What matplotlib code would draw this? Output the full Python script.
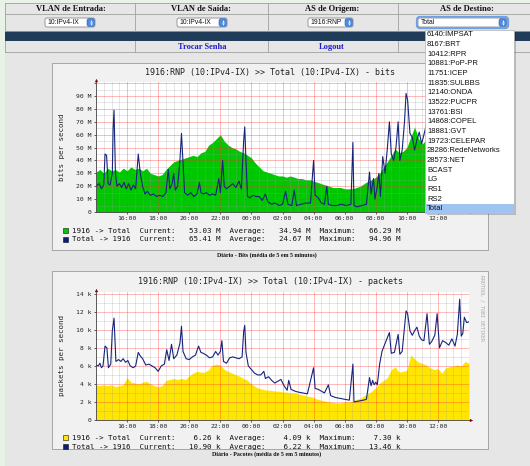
import matplotlib
matplotlib.use('Agg')
import matplotlib.pyplot as plt
from matplotlib.patches import Rectangle, FancyBboxPatch
import numpy as np

W, H = 530, 466
MONO = 'DejaVu Sans Mono'
SERIF = 'Liberation Serif'
SANS = 'Liberation Sans'

# header of the page
col_titles = ['VLAN de Entrada:', 'VLAN de Saída:', 'AS de Origem:', 'AS de Destino:']
col_selected = ['10:IPv4-IX', '10:IPv4-IX', '1916:RNP', 'Total']
menu_links = ['Trocar Senha', 'Logout']
as_options = ['6140:IMPSAT', '8167:BRT', '10412:RPR', '10881:PoP-PR', '11751:ICEP',
              '11835:SULBBS', '12140:ONDA', '13522:PUCPR', '13761:BSI', '14868:COPEL',
              '18881:GVT', '19723:CELEPAR', '28286:RedeNetworks', '28573:NET',
              'BCAST', 'LG', 'RS1', 'RS2', 'Total']

# time axis (hours since the start of the graph, ~14:00)
tick_hours = [2, 4, 6, 8, 10, 12, 14, 16, 18, 20, 22]
tick_labels = ['16:00', '18:00', '20:00', '22:00', '00:00', '02:00',
               '04:00', '06:00', '08:00', '10:00', '12:00']
sample_hours = np.arange(0, 24.01, 0.25)

series_names = ['1916 -> Total', 'Total -> 1916']

# bits graph (M bit/s)
bits_out = [31, 33, 30, 34, 32, 33, 31, 34, 32,
            35, 33, 34, 32, 34, 30, 29, 28,
            29, 33, 36, 39, 40, 41, 42, 43,
            44, 43, 46, 47, 52, 54, 57, 60,
            55, 52, 50, 49, 47, 46, 44, 42,
            38, 35, 32, 31, 30, 29, 28, 28,
            27, 28, 27, 26, 26, 25, 25, 24,
            23, 22, 21, 20, 19, 19, 19, 18,
            18, 18, 19, 20, 22, 24, 25, 27,
            30, 35, 39, 44, 49, 46, 47, 50,
            58, 66, 57, 53, 56, 58, 55, 57,
            56, 59, 57, 60, 58, 55, 54, 53]

bits_in_h = [0.0, 0.2, 0.35, 0.5, 0.58, 0.68, 0.78, 0.9, 1.05, 1.1,
             1.16, 1.25, 1.35, 1.5, 1.65, 1.8, 1.95, 2.1, 2.25, 2.4,
             2.55, 2.72, 2.85, 3.0, 3.15, 3.3, 3.5, 3.7, 3.9, 4.1,
             4.3, 4.5, 4.65, 4.75, 4.9, 5.0, 5.1, 5.25, 5.4, 5.5,
             5.6, 5.7, 5.9, 6.1, 6.3, 6.5, 6.65, 6.75, 6.9, 7.1,
             7.3, 7.5, 7.7, 7.9, 8.0, 8.15, 8.25, 8.4, 8.6, 8.8,
             9.0, 9.2, 9.35, 9.5, 9.57, 9.65, 9.75, 9.9, 10.1, 10.3,
             10.5, 10.7, 10.9, 11.05, 11.3, 11.5, 11.8, 12.0, 12.2, 12.35,
             12.6, 12.75, 12.9, 13.2, 13.5, 13.8, 14.0, 14.1, 14.3, 14.5,
             14.7, 14.85, 14.95, 15.2, 15.5, 15.8, 16.1, 16.4, 16.53, 16.6,
             16.8, 17.1, 17.4, 17.6, 17.7, 17.85, 17.95, 18.1, 18.2, 18.3,
             18.45, 18.6, 18.75, 18.88, 19.0, 19.15, 19.3, 19.44, 19.55, 19.7,
             19.85, 19.95, 20.05, 20.2, 20.35, 20.5, 20.65, 20.8, 20.95, 21.1,
             21.4, 21.7, 22.0, 22.3, 22.6, 22.9, 23.2, 23.5, 23.8, 24.0]
bits_in = [20, 22, 18, 21, 45, 44, 22, 21, 30, 65,
           79, 30, 20, 22, 19, 23, 18, 22, 17, 21,
           18, 45, 30, 20, 14, 16, 13, 14, 12, 13,
           12, 15, 33, 18, 22, 30, 17, 20, 40, 61,
           38, 15, 13, 15, 12, 14, 23, 15, 14, 15,
           13, 14, 13, 26, 15, 40, 20, 18, 20, 22,
           19, 24, 18, 55, 66, 40, 12, 11, 13, 12,
           12, 9, 14, 8, 6, 7, 5, 6, 16, 6,
           5, 17, 5, 6, 7, 7, 40, 13, 11, 7,
           6, 20, 6, 5, 5, 6, 5, 6, 54, 5,
           4, 5, 6, 31, 14, 26, 10, 20, 30, 12,
           43, 30, 50, 70, 45, 40, 50, 70, 40, 48,
           70, 92, 87, 61, 58, 48, 56, 62, 53, 60,
           75, 65, 82, 70, 95, 72, 80, 68, 70, 65]

bits_stats_out = [53.03, 34.94, 66.29]
bits_stats_in = [65.41, 24.67, 94.96]

# packets graph (k packets/s)
pk_out = [3.9, 3.8, 3.9, 3.8, 3.9, 3.7, 3.8, 3.9, 4.7,
          4.2, 4.1, 4.0, 4.2, 4.3, 4.0, 3.8, 3.7,
          3.8, 4.4, 4.5, 4.6, 4.5, 4.6, 4.5, 4.9,
          5.2, 5.4, 5.3, 5.3, 5.6, 6.1, 6.2, 6.1,
          5.6, 5.4, 5.2, 5.0, 4.85, 4.6, 4.4, 4.0,
          3.7, 3.5, 3.4, 3.3, 3.3, 3.2, 3.2, 3.1,
          3.1, 3.0, 3.0, 2.9, 2.8, 2.7, 2.6, 2.5,
          2.3, 2.2, 2.1, 2.0, 1.95, 1.9, 1.9, 2.0,
          2.0, 2.1, 2.3, 2.4, 2.7, 2.9, 3.2, 3.6,
          4.1, 4.4, 4.7, 5.6, 5.9, 5.3, 5.4, 5.5,
          7.2, 6.8, 6.4, 6.3, 6.1, 5.8, 5.6, 5.7,
          5.2, 5.8, 5.9, 6.0, 6.1, 6.0, 6.5, 6.3]

pk_in_h = [0.0, 0.15, 0.25, 0.35, 0.45, 0.58, 0.7, 0.8, 0.95, 1.05,
           1.16, 1.28, 1.45, 1.6, 1.75, 1.9, 2.05, 2.2, 2.4, 2.55,
           2.72, 2.85, 3.0, 3.2, 3.4, 3.6, 3.8, 4.0, 4.2, 4.4,
           4.55, 4.7, 4.86, 5.0, 5.2, 5.4, 5.5, 5.6, 5.8, 6.0,
           6.2, 6.4, 6.6, 6.75, 6.9, 7.1, 7.3, 7.5, 7.7, 7.85,
           8.0, 8.1, 8.2, 8.4, 8.6, 8.8, 9.0, 9.2, 9.4, 9.5,
           9.57, 9.65, 9.8, 10.0, 10.2, 10.4, 10.6, 10.8, 10.9, 11.1,
           11.3, 11.5, 11.7, 11.9, 12.1, 12.3, 12.4, 12.55, 12.8, 13.0,
           13.3, 13.6, 14.0, 14.1, 14.3, 14.5, 14.7, 14.95, 15.1, 15.4,
           15.7, 16.0, 16.3, 16.53, 16.6, 16.9, 17.2, 17.4, 17.6, 17.7,
           17.8, 17.9, 18.0, 18.1, 18.25, 18.4, 18.6, 18.88, 19.0, 19.2,
           19.44, 19.55, 19.7, 19.95, 20.05, 20.2, 20.35, 20.5, 20.65, 20.8,
           20.95, 21.1, 21.3, 21.45, 21.6, 21.8, 21.95, 22.1, 22.3, 22.5,
           22.7, 22.9, 23.1, 23.25, 23.4, 23.5, 23.6, 23.7, 23.85, 24.0]
pk_in = [6.1, 6.0, 6.3, 5.8, 6.0, 8.2, 8.0, 5.8, 6.2, 9.9,
         11.3, 6.5, 6.7, 6.5, 6.8, 6.4, 6.6, 6.0, 5.8, 6.0,
         7.5, 7.1, 6.8, 6.1, 6.2, 6.0, 5.8, 5.4, 6.0, 6.2,
         7.8, 6.6, 8.4, 6.8, 7.2, 8.5, 10.4, 7.6, 6.8, 6.7,
         7.0, 7.2, 8.2, 7.5, 7.4, 7.2, 6.9, 7.0, 7.6, 7.2,
         7.6, 8.8, 6.5, 6.3, 6.9, 7.0, 6.9, 6.8, 7.0, 9.8,
         10.5, 7.5, 6.0, 5.6, 5.2, 5.0, 5.0, 5.4, 4.6, 4.8,
         4.4, 4.1, 4.3, 4.5, 3.8, 3.3, 4.4, 3.4, 3.2, 3.1,
         3.0, 2.9, 5.8, 3.5, 3.4, 3.2, 3.0, 3.9, 2.7, 2.5,
         2.4, 2.3, 2.2, 6.2, 2.0, 2.1, 2.2, 2.3, 4.7, 3.8,
         4.4, 3.9, 4.2, 3.9, 6.2, 7.6, 8.5, 9.7, 7.4, 7.5,
         9.5, 7.3, 7.6, 12.1, 11.8, 9.9, 9.4, 9.9, 10.3, 9.3,
         8.9, 8.8, 11.8, 8.4, 8.7, 9.4, 11.8, 8.0, 8.8, 8.6,
         8.3, 9.0, 8.2, 9.5, 13.4, 9.3, 9.6, 11.4, 10.8, 10.9]

pk_stats_out = [6.26, 4.09, 7.30]
pk_stats_in = [10.90, 6.22, 13.46]


def px_axes(fig, x0, y0, x1, y1, z):
    """
    axes placed by pixel box (top-left origin)
    """
    return fig.add_axes([x0 / W, 1 - y1 / H, (x1 - x0) / W, (y1 - y0) / H], zorder=z)


def draw_select(ax, x0, x1, text, focus=False):
    """
    a mac style select box
    """
    y0, y1 = 18, 27
    if focus:
        ax.add_patch(FancyBboxPatch((x0 - 1.2, y0 - 1.2), x1 - x0 + 2.4, y1 - y0 + 2.4,
                                    boxstyle='round,pad=0,rounding_size=3',
                                    fc='none', ec='#6d9fe6', lw=1.3))
    ax.add_patch(FancyBboxPatch((x0, y0), x1 - x0, y1 - y0,
                                boxstyle='round,pad=0,rounding_size=2',
                                fc='white', ec='#8a8a8a', lw=0.6))
    ax.add_patch(FancyBboxPatch((x1 - 8, y0 + 0.6), 7.4, y1 - y0 - 1.2,
                                boxstyle='round,pad=0,rounding_size=2',
                                fc='#4b8be2', ec='#2f62b4', lw=0.4))
    ax.plot(x1 - 4.3, y0 + 3.0, marker='^', ms=1.7, color='white', mew=0)
    ax.plot(x1 - 4.3, y1 - 3.0, marker='v', ms=1.7, color='white', mew=0)
    ax.text(x0 + 2.5, (y0 + y1) / 2 + 0.3, text, fontsize=4.9, family=SANS,
            va='center', ha='left', color='#111111')


def draw_header(bg):
    """
    page background and the top table
    """
    bg.add_patch(Rectangle((0, 0), W, H, fc='#e6e6e6', ec='none'))
    bg.add_patch(Rectangle((0, 0), 5, H, fc='#e9f2e7', ec='none'))
    bg.add_patch(Rectangle((0, 0), W, 3, fc='#e9f2e7', ec='none'))

    seps = [5, 135, 268, 398]
    for y in [3, 13.5, 30.5, 52]:
        bg.plot([5, W], [y, y], color='#a0a0a0', lw=0.6)
    for x in seps:
        bg.plot([x, x], [3, 30.5], color='#a0a0a0', lw=0.6)
        bg.plot([x, x], [41, 52], color='#a0a0a0', lw=0.6)
    bg.add_patch(Rectangle((5, 31), W - 5, 10, fc='#213c58', ec='none'))

    centers = [71, 201, 332, 467]
    for cx, t in zip(centers, col_titles):
        bg.text(cx, 8.6, t, fontsize=6.1, family=SERIF, weight='bold',
                ha='center', va='center', color='#111111')

    boxes = [(45, 95), (177, 227), (308, 353), (418, 507)]
    for i, (b, t) in enumerate(zip(boxes, col_selected)):
        draw_select(bg, b[0], b[1], t, focus=(i == 3))

    for cx, t in zip([202, 332], menu_links):
        bg.text(cx, 46.6, t, fontsize=6.0, family=SERIF, weight='bold',
                ha='center', va='center', color='#1c1cc8')


def draw_chart(fig, bg, top, bottom, rows, hours_in, area, line, stats_out, stats_in,
               unit, ymax, ystep, title, ylabel, caption, area_color, py0, py1):
    """
    one rrdtool style graph panel
    """
    # panel frame
    bg.add_patch(Rectangle((53, top + 1), 436, bottom - top, fc='#b4b4b4', ec='none'))
    bg.add_patch(Rectangle((52, top), 436, bottom - top, fc='#f1f1f1', ec='#a6a6a6', lw=0.7))
    bg.text(270, top + 10, title, fontsize=6.0, family=MONO, ha='center', va='center',
            color='#222222')
    bg.text(62, (py0 + py1) / 2, ylabel, fontsize=5.4, family=MONO, rotation=90,
            ha='center', va='center', color='#222222')
    bg.text(482, py0 - 17, 'RRDTOOL / TOBI OETIKER', fontsize=3.6, family=MONO,
            rotation=-90, ha='center', va='top', color='#a8a8a8')

    # legend
    colors = [area_color, '#0c1a78']
    for r, name, st, c in zip(rows, series_names, [stats_out, stats_in], colors):
        bg.add_patch(Rectangle((63, r - 2.6), 5.2, 5.2, fc=c, ec='#111111', lw=0.4))
        s = '%-13s  Current:%8.2f %s  Average:%8.2f %s  Maximum:%8.2f %s' % (
            name, st[0], unit, st[1], unit, st[2], unit)
        bg.text(71.5, r + 0.3, s, fontsize=5.4, family=MONO, ha='left', va='center',
                color='#111111')
    bg.text(267, bottom + 5, caption, fontsize=4.3, family=SERIF, weight='bold',
            ha='center', va='center', color='#111111')

    # plot area
    ax = px_axes(fig, 96, py0, 469, py1, 2)
    ax.set_facecolor('white')
    ax.fill_between(sample_hours, area, color=area_color, lw=0, zorder=1)
    ax.plot(hours_in, line, color='#16257c', lw=0.8, zorder=4)
    ax.set_xlim(0, 24)
    ax.set_ylim(0, ymax)

    ax.set_xticks(tick_hours)
    ax.set_xticklabels(tick_labels)
    ax.set_xticks(np.arange(0, 24.01, 0.5), minor=True)
    yt = np.arange(0, ymax, ystep)
    ax.set_yticks(yt)
    labels = ['0'] + ['%d %s' % (v, unit) for v in yt[1:]]
    if unit == 'M':
        labels[-1] = ''
    ax.set_yticklabels(labels)
    ax.set_yticks(np.arange(0, ymax, ystep / 2.0), minor=True)

    ax.set_axisbelow(False)
    ax.grid(which='minor', color='#9a9a9a', alpha=0.35, lw=0.5)
    ax.grid(which='major', color='#ff3030', alpha=0.4, lw=0.6)
    ax.tick_params(which='minor', length=0)
    ax.tick_params(which='major', length=1.5, width=0.5, pad=1.6, labelsize=4.6,
                   colors='#222222')
    for lab in ax.get_xticklabels() + ax.get_yticklabels():
        lab.set_family(MONO)
    for s in ['top', 'right']:
        ax.spines[s].set_visible(False)
    for s in ['left', 'bottom']:
        ax.spines[s].set_color('#444444')
        ax.spines[s].set_linewidth(0.6)
        ax.spines[s].set_zorder(5)
    ax.plot([0], [1.012], marker='^', ms=2.4, color='#8b0000', mew=0,
            transform=ax.transAxes, clip_on=False, zorder=6)
    ax.plot([1.006], [0], marker='>', ms=2.4, color='#8b0000', mew=0,
            transform=ax.transAxes, clip_on=False, zorder=6)
    return ax


def draw_dropdown(fg):
    """
    the open AS de Destino list
    """
    x0, x1, y0, y1 = 425, 514, 30, 213
    fg.add_patch(Rectangle((x0 + 1.5, y0 + 2), x1 - x0, y1 - y0, fc='black', alpha=0.2,
                           ec='none'))
    fg.add_patch(Rectangle((x0, y0), x1 - x0, y1 - y0, fc='white', ec='#b0b0b0', lw=0.5))
    for i, name in enumerate(as_options):
        y = 34.7 + i * 9.67
        if name == col_selected[3]:
            fg.add_patch(Rectangle((x0 + 0.4, y - 4.6), x1 - x0 - 0.8, 9.2, fc='#9fc4f2',
                                   ec='none'))
        fg.text(x0 + 2, y + 0.2, name, fontsize=5.5, family=SANS, ha='left', va='center',
                color='#111111')


def main():
    fig = plt.figure(figsize=(W / 100, H / 100), dpi=100)

    bg = fig.add_axes([0, 0, 1, 1], zorder=0)
    bg.set_xlim(0, W)
    bg.set_ylim(H, 0)
    bg.axis('off')
    draw_header(bg)

    draw_chart(fig, bg, 63, 250, [230.5, 239.2], bits_in_h, bits_out, bits_in,
               bits_stats_out, bits_stats_in, 'M', 100.9, 10,
               '1916:RNP (10:IPv4-IX) >> Total (10:IPv4-IX) - bits', 'bits per second',
               'Diário - Bits (média de 5 em 5 minutos)', '#00c800', 82, 212)
    draw_chart(fig, bg, 271, 449, [437.3, 446.3], pk_in_h, pk_out, pk_in,
               pk_stats_out, pk_stats_in, 'k', 14.2, 2,
               '1916:RNP (10:IPv4-IX) >> Total (10:IPv4-IX) - packets',
               'packets per second',
               'Diário - Pacotes (média de 5 em 5 minutos)', '#ffe500', 292, 420)

    fg = fig.add_axes([0, 0, 1, 1], zorder=10)
    fg.set_xlim(0, W)
    fg.set_ylim(H, 0)
    fg.axis('off')
    fg.patch.set_visible(False)
    draw_dropdown(fg)

    fig.savefig('out.png', dpi=100)


main()
